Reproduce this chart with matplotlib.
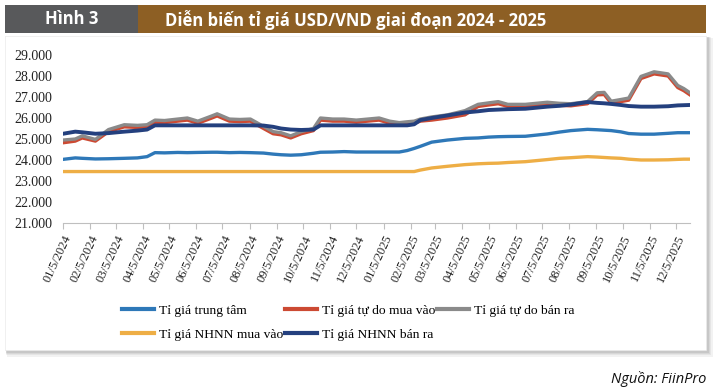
import matplotlib
matplotlib.use("Agg")
import matplotlib.pyplot as plt
import matplotlib.dates as mdates
from matplotlib.patches import Rectangle
import pandas as pd

dates = ["2024-01-05","2024-01-19","2024-01-27","2024-02-11","2024-02-26","2024-03-15","2024-03-30",
         "2024-04-10","2024-04-19","2024-04-30","2024-05-15","2024-05-26","2024-06-07","2024-06-23",
         "2024-06-29","2024-07-13","2024-07-25","2024-08-06","2024-08-21","2024-09-01","2024-09-10",
         "2024-09-21","2024-10-03","2024-10-17","2024-10-25","2024-11-08","2024-11-21","2024-12-05",
         "2024-12-18","2024-12-31","2025-01-12","2025-01-23","2025-02-01","2025-02-09","2025-02-16",
         "2025-03-01","2025-03-19","2025-04-08","2025-04-23","2025-05-05","2025-05-16","2025-05-27",
         "2025-06-16","2025-07-11","2025-07-25","2025-08-07","2025-08-26","2025-09-06","2025-09-14",
         "2025-09-22","2025-10-03","2025-10-12","2025-10-26","2025-11-10","2025-11-26","2025-12-07",
         "2025-12-14","2025-12-21"]

trung_tam = [24030,24100,24080,24050,24060,24080,24100,24160,24350,24340,24360,24350,24360,24370,
             24370,24350,24360,24350,24330,24280,24250,24230,24250,24320,24370,24380,24400,24380,
             24380,24380,24380,24380,24450,24550,24650,24850,24950,25030,25050,25090,25110,25120,
             25130,25240,25330,25400,25460,25440,25420,25400,25340,25260,25230,25230,25270,25300,
             25300,25300]

tu_do_mua = [24820,24900,25050,24900,25350,25580,25550,25580,25800,25780,25850,25900,25750,26000,
             26100,25850,25830,25850,25500,25250,25200,25050,25250,25400,25900,25850,25850,25800,
             25850,25900,25750,25680,25720,25750,25850,25900,26000,26150,26550,26620,26680,26550,
             26550,26650,26600,26580,26680,27100,27120,26700,26780,26850,27880,28100,28000,27450,
             27300,27100]

tu_do_ban = [24950,25000,25150,24980,25450,25680,25650,25680,25900,25880,25950,26000,25850,26100,
             26200,25950,25930,25950,25600,25350,25300,25150,25350,25500,26000,25950,25950,25900,
             25950,26000,25850,25780,25820,25850,25950,26050,26150,26350,26650,26720,26780,26650,
             26650,26750,26700,26680,26780,27200,27220,26800,26880,26950,27980,28200,28100,27550,
             27400,27200]

nhnn_mua = [23450]*34 + [23520,23620,23700,23780,23820,23840,23850,23880,23920,24020,24080,24110,
                         24160,24140,24120,24100,24080,24040,24000,24000,24010,24030,24040,24040]

nhnn_ban = [25250,25350,25320,25250,25280,25350,25400,25450,25650,25650,25650,25650,25650,25650,
            25650,25650,25650,25650,25640,25580,25500,25450,25430,25450,25650,25650,25650,25650,
            25650,25650,25650,25650,25650,25700,25900,26000,26120,26260,26320,26380,26400,26420,
            26440,26540,26580,26640,26760,26720,26700,26670,26620,26570,26540,26540,26560,26600,
            26610,26620]

tick_dates = pd.date_range("2024-01-01", "2025-12-01", freq="MS") + pd.Timedelta(days=4)
tick_labels = [f"{d.month:02d}/5/{d.year}" for d in tick_dates]
y_ticks = [21000, 22000, 23000, 24000, 25000, 26000, 27000, 28000, 29000]

labels = ["Tỉ giá trung tâm", "Tỉ giá tự do mua vào", "Tỉ giá tự do bán ra",
          "Tỉ giá NHNN mua vào", "Tỉ giá NHNN bán ra"]

W, H = 719, 391
fig = plt.figure(figsize=(W/100, H/100), dpi=100)

bg = fig.add_axes([0, 0, 1, 1], zorder=0)
bg.set_xlim(0, W)
bg.set_ylim(H, 0)
bg.axis("off")
for i, a in enumerate([0.05, 0.05, 0.06, 0.07, 0.08]):
    off = 5 - i
    bg.add_patch(Rectangle((5 + off*0.3, 36 + off*0.3), 701 + off, 314 + off,
                           facecolor="#000000", alpha=a, edgecolor="none"))
bg.add_patch(Rectangle((5, 36), 701, 314, facecolor="white", edgecolor="#eeeeee", lw=0.5))
bg.add_patch(Rectangle((5, 5), 133, 28, facecolor="#58595b", edgecolor="none"))
bg.add_patch(Rectangle((138, 5), 568, 28, facecolor="#8d5f24", edgecolor="none"))
hdr_font = ["Open Sans", "DejaVu Sans"]
bg.text(72, 19.5, "Hình 3", color="white", fontsize=12, fontweight="bold",
        family=hdr_font, ha="center", va="center")
bg.text(165, 19.5, "Diễn biến tỉ giá USD/VND giai đoạn 2024 - 2025", color="white",
        fontsize=12, fontweight="bold", family=hdr_font, ha="left", va="center")
bg.text(706, 379, "Nguồn: FiinPro", color="#111111", fontsize=10.5, style="italic",
        family=hdr_font, ha="right", va="center")

ax = fig.add_axes([63/W, 1 - 223/H, (690-63)/W, (223-55)/H], zorder=2)
ax.patch.set_alpha(0)
x = pd.to_datetime(dates)
ax.plot(x, trung_tam, color="#2e78b8", lw=2.4, label=labels[0], zorder=3)
ax.plot(x, tu_do_mua, color="#cc4a33", lw=2.4, label=labels[1], zorder=4)
ax.plot(x, tu_do_ban, color="#8a8a8a", lw=2.4, label=labels[2], zorder=5)
ax.plot(x, nhnn_mua, color="#eeae45", lw=2.4, label=labels[3], zorder=3)
ax.plot(x, nhnn_ban, color="#24407e", lw=2.8, label=labels[4], zorder=6)

ax.set_ylim(21000, 29000)
ax.set_xlim(pd.Timestamp("2024-01-05"), pd.Timestamp("2025-12-21"))
ax.set_yticks(y_ticks)
ax.set_yticklabels([f"{v:,}".replace(",", ".") for v in y_ticks],
                   family="Liberation Serif", fontsize=10, color="#222222")
ax.tick_params(axis="y", length=0, pad=8)
ax.set_xticks(tick_dates)
ax.set_xticklabels(tick_labels, rotation=65, ha="right", va="top", rotation_mode="anchor",
                   family="Liberation Serif", fontsize=9, color="#222222")
ax.tick_params(axis="x", length=4, color="#bfbfbf", pad=3)
for s in ["top", "right", "left"]:
    ax.spines[s].set_visible(False)
ax.spines["bottom"].set_color("#bfbfbf")

h, l = ax.get_legend_handles_labels()
order = [0, 3, 1, 4, 2]
leg = fig.legend([h[i] for i in order], [l[i] for i in order], ncol=3,
                 loc="upper left", bbox_to_anchor=(110/W, 1 - 292/H),
                 frameon=False, prop={"family": "Liberation Serif", "size": 9.7},
                 handlelength=2.4, handletextpad=0.35, columnspacing=0.1,
                 labelspacing=0.9)
for line in leg.get_lines():
    line.set_linewidth(3)

fig.savefig("out.png", dpi=100)
